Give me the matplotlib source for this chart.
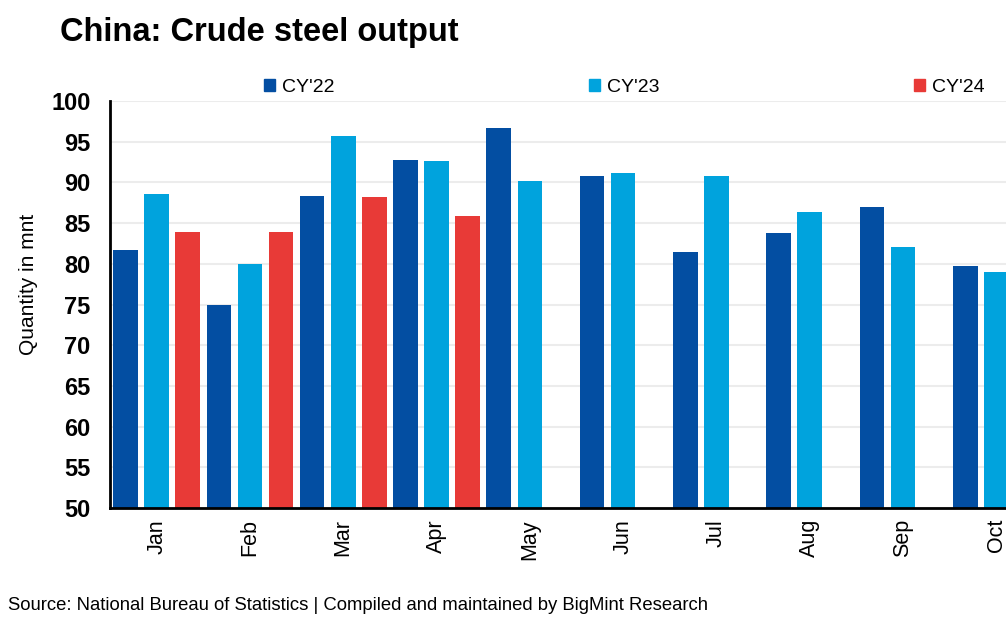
import matplotlib
matplotlib.use("Agg")
import matplotlib.pyplot as plt
from matplotlib.patches import Patch
import numpy as np

months = ["Jan", "Feb", "Mar", "Apr", "May", "Jun", "Jul", "Aug", "Sep", "Oct"]
cy22 = [81.7, 74.9, 88.3, 92.75, 96.7, 90.8, 81.4, 83.8, 87.0, 79.7]
cy23 = [88.6, 80.0, 95.7, 92.6, 90.2, 91.2, 90.8, 86.4, 82.1, 79.0]
cy24 = [83.9, 83.9, 88.2, 85.9]
series_names = ["CY'22", "CY'23", "CY'24"]
colors = ["#034ea2", "#00a3dd", "#e83a37"]

plt.rcParams['font.family'] = ['Liberation Sans', 'DejaVu Sans']

fig = plt.figure(figsize=(10.06, 6.24), dpi=100)
ax = fig.add_axes([110/1006, 1-508/624, 1-110/1006, (508-101)/624])

x = np.arange(len(months))
slot = 1/3
bw = 0.263
ax.bar(x - slot, cy22, width=bw, color=colors[0], zorder=3)
ax.bar(x, cy23, width=bw, color=colors[1], zorder=3)
ax.bar(np.arange(len(cy24)) + slot, cy24, width=bw, color=colors[2], zorder=3)

ax.set_ylim(50, 100)
ax.set_yticks(np.arange(50, 101, 5))
ax.set_xlim(-0.5, -0.5 + (1006-110)/93.3)
ax.set_xticks(x)
ax.set_xticklabels(months, rotation=90, fontsize=15.5)
for lab in ax.get_yticklabels():
    lab.set_fontweight('bold')
    lab.set_fontsize(17)
ax.tick_params(axis='both', length=0)
ax.tick_params(axis='y', pad=14)
ax.tick_params(axis='x', pad=8)
ax.grid(axis='y', color='#ececec', linewidth=1.5, zorder=0)
for s in ['top', 'right']:
    ax.spines[s].set_visible(False)
for s in ['left', 'bottom']:
    ax.spines[s].set_linewidth(2)
    ax.spines[s].set_color('black')
    ax.spines[s].set_zorder(4)
ax.set_ylabel("Quantity in mnt", fontsize=15)
ax.yaxis.set_label_coords(-72/896, 0.55)

handles = [Patch(color=c) for c in colors]
fig.legend(handles, series_names, ncol=3, mode="expand",
           bbox_to_anchor=(264/1006, 1-96/624, (985-264)/1006, 22/624),
           loc='lower left', frameon=False, fontsize=14,
           handlelength=0.55, handleheight=0.55, handletextpad=0.4,
           borderpad=0, borderaxespad=0)

fig.text(60/1006, 1-33/624, "China: Crude steel output", fontsize=23.5,
         fontweight='bold', va='center', ha='left')
fig.text(8/1006, 1-606/624,
         "Source: National Bureau of Statistics | Compiled and maintained by BigMint Research",
         fontsize=13.3, va='center', ha='left')

fig.savefig("out.png", dpi=100)
